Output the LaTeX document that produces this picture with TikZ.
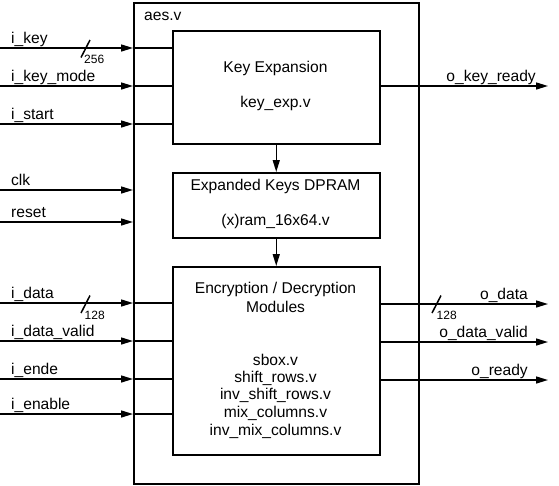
\documentclass[tikz,border=0pt]{standalone}
\usepackage{fontspec}
\setmainfont{Liberation Sans}
\usetikzlibrary{arrows.meta}
\begin{document}
\begin{tikzpicture}[x=1pt,y=-1pt,
  box/.style={draw,line width=1.5pt,inner sep=0pt,anchor=north west},
  sig/.style={line width=1.5pt,-{Triangle[length=12pt,width=7pt]}},
  wire/.style={line width=1.5pt},
  lbl/.style={inner sep=0pt,font=\fontsize{15.6}{18}\selectfont},
  inlbl/.style={lbl,anchor=base west},
  outlbl/.style={lbl,anchor=base east},
  txt/.style={lbl,anchor=center},
  bw/.style={inner sep=0pt,font=\fontsize{12}{14}\selectfont}]
\useasboundingbox (0,0) rectangle (559,485);
% boxes
\node[box,minimum width=285pt,minimum height=481pt] (aes) at (133,2) {};
\node[box,minimum width=207pt,minimum height=113pt] (key) at (172,30) {};
\node[box,minimum width=207pt,minimum height=65pt] (ram) at (172,172) {};
\node[box,minimum width=207pt,minimum height=188pt] (enc) at (172,266) {};
% box texts
\node[lbl,anchor=west] (taes) at (144,16) {aes.v};
\node[txt] (tkey1) at (275.5,68) {Key Expansion};
\node[txt] (tkey2) at (275.5,103) {key\_exp.v};
\node[txt] (tram1) at (275.5,186) {Expanded Keys DPRAM};
\node[txt] (tram2) at (275.5,221.5) {(x)ram\_16x64.v};
\node[txt] (tenc1) at (275.5,289) {Encryption / Decryption};
\node[txt] (tenc2) at (275.5,306.7) {Modules};
\node[txt] (tenc3) at (275.5,360) {sbox.v};
\node[txt] (tenc4) at (275.5,378) {shift\_rows.v};
\node[txt] (tenc5) at (275.5,395.7) {inv\_shift\_rows.v};
\node[txt] (tenc6) at (275.5,413.7) {mix\_columns.v};
\node[txt] (tenc7) at (275.5,431.3) {inv\_mix\_columns.v};
% internal arrows
\draw[sig] (key.south) -- (ram.north);
\draw[sig] (ram.south) -- (enc.north);
% input coordinates
\coordinate (ikey) at (0,48);
\coordinate (imode) at (0,86);
\coordinate (istart) at (0,124);
\coordinate (iclk) at (0,190);
\coordinate (irst) at (0,222);
\coordinate (idata) at (0,303);
\coordinate (ivalid) at (0,341);
\coordinate (iende) at (0,379);
\coordinate (ienable) at (0,414);
% inputs to key expansion
\foreach \c in {ikey,imode,istart}{
  \draw[sig] (\c) -- (\c -| aes.west);
  \draw[wire] (\c -| aes.west) -- (\c -| key.west);
}
\foreach \c in {iclk,irst}{
  \draw[sig] (\c) -- (\c -| aes.west);
}
\foreach \c in {idata,ivalid,iende,ienable}{
  \draw[sig] (\c) -- (\c -| aes.west);
  \draw[wire] (\c -| aes.west) -- (\c -| enc.west);
}
% input labels
\node[inlbl] (likey) at (11,43.5) {i\_key};
\node[inlbl] (limode) at (11,81.5) {i\_key\_mode};
\node[inlbl] (listart) at (11,119.5) {i\_start};
\node[inlbl] (liclk) at (11,185.5) {clk};
\node[inlbl] (lirst) at (11,217.5) {reset};
\node[inlbl] (lidata) at (11,298.5) {i\_data};
\node[inlbl] (livalid) at (11,336.5) {i\_data\_valid};
\node[inlbl] (liende) at (11,374.5) {i\_ende};
\node[inlbl] (lienable) at (11,409.5) {i\_enable};
% outputs
\coordinate (okr) at (548,86);
\coordinate (odata) at (548,304);
\coordinate (ovalid) at (548,342);
\coordinate (ordy) at (548,380);
\draw[sig] (okr -| key.east) -- (okr);
\foreach \c in {odata,ovalid,ordy}{
  \draw[sig] (\c -| enc.east) -- (\c);
}
\node[outlbl] (lokr) at (536,81.5) {o\_key\_ready};
\node[outlbl] (lodata) at (528,299.5) {o\_data};
\node[outlbl] (lovalid) at (528,337.5) {o\_data\_valid};
\node[outlbl] (lordy) at (528,375.5) {o\_ready};
% bus width marks
\draw[wire] (81,57.5) -- (90,40);
\node[bw,anchor=west] (w1) at (84,59.5) {256};
\draw[wire] (81,313) -- (90,295.5);
\node[bw,anchor=west] (w2) at (84.5,315.5) {128};
\draw[wire] (432,313) -- (441,295.5);
\node[bw,anchor=west] (w3) at (436.5,315.5) {128};
\end{tikzpicture}
\end{document}
